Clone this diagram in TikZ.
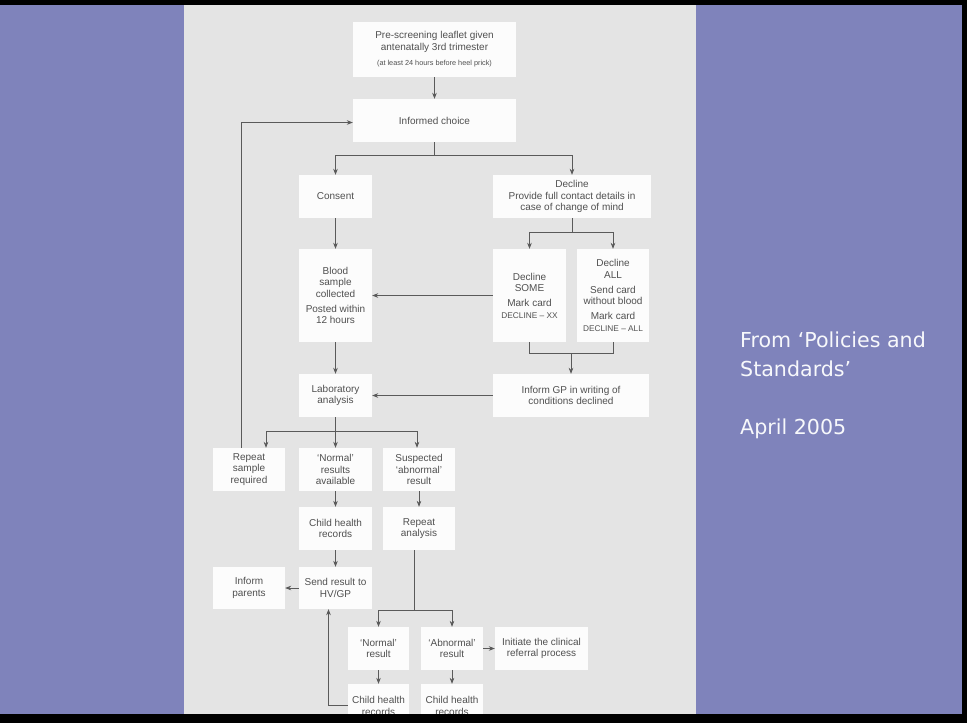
\documentclass[tikz,border=0pt]{standalone}
\usepackage{fontspec}
\setmainfont{Liberation Sans}
\newfontfamily\slidefont{DejaVu Sans}
\usetikzlibrary{arrows.meta}

\definecolor{slidebg}{RGB}{127,131,187}
\definecolor{pagebg}{RGB}{228,228,228}
\definecolor{boxfill}{RGB}{252,252,252}
\definecolor{ink}{RGB}{80,80,80}
\definecolor{wire}{RGB}{90,90,90}

\newcommand{\smalltxt}{\fontsize{7.3}{9}\selectfont}
\newcommand{\captxt}{\fontsize{8.3}{10}\selectfont}

\begin{document}
\begin{tikzpicture}[x=1pt,y=-1pt,
  box/.style={fill=boxfill, draw=none, inner sep=0pt, align=center, text=ink,
    font=\fontsize{10}{11.5}\selectfont},
  link/.style={draw=wire, line width=0.7pt},
  arr/.style={link, -{Stealth[length=6pt,width=4.6pt]}},
  slidetxt/.style={anchor=base west, inner sep=0pt, text=white!94!slidebg,
    font=\slidefont\fontsize{20.6}{24}\selectfont}
]
% background
\fill[slidebg] (0,0) rectangle (967,723);
\fill[pagebg] (184,0) rectangle (696,723);
\useasboundingbox (0,0) rectangle (967,723);

% boxes
\node[box, minimum width=163pt, minimum height=55pt] (pre) at (434.5,49.5)
  {Pre-screening leaflet given\\antenatally 3rd trimester\\[4pt]{\smalltxt (at least 24 hours before heel prick)}};
\node[box, minimum width=163pt, minimum height=43pt] (inf) at (434.5,120.5) {Informed choice};
\node[box, minimum width=73pt, minimum height=43pt] (consent) at (335.5,196.5) {Consent};
\node[box, minimum width=158pt, minimum height=43pt] (decline) at (572,196.5)
  {Decline\\Provide full contact details in\\case of change of mind};
\node[box, minimum width=73pt, minimum height=93pt] (blood) at (335.5,295.5)
  {Blood\\sample\\collected\\[3.5pt]Posted within\\12 hours};
\node[box, minimum width=73pt, minimum height=93pt] (some) at (529.5,295.5)
  {Decline\\SOME\\[3.5pt]Mark card\\{\captxt DECLINE -- XX}};
\node[box, minimum width=72pt, minimum height=93pt] (all) at (613,295.5)
  {Decline\\ALL\\[3.5pt]Send card\\without blood\\[3.5pt]Mark card\\{\captxt DECLINE -- ALL}};
\node[box, minimum width=73pt, minimum height=43pt] (lab) at (335.5,395.5) {Laboratory\\analysis};
\node[box, minimum width=156pt, minimum height=43pt] (gp) at (571,395.5)
  {Inform GP in writing of\\conditions declined};
\node[box, minimum width=72pt, minimum height=43pt] (rs) at (249,469.5) {Repeat\\sample\\required};
\node[box, minimum width=73pt, minimum height=43pt] (nr) at (335.5,469.5) {‘Normal’\\results\\available};
\node[box, minimum width=72pt, minimum height=43pt] (sus) at (419,469.5) {Suspected\\‘abnormal’\\result};
\node[box, minimum width=73pt, minimum height=43pt] (chr1) at (335.5,528.5) {Child health\\records};
\node[box, minimum width=72pt, minimum height=43pt] (ra) at (419,528.5) {Repeat\\analysis};
\node[box, minimum width=73pt, minimum height=42pt] (send) at (335.5,588) {Send result to\\HV/GP};
\node[box, minimum width=72pt, minimum height=42pt] (par) at (249,588) {Inform\\parents};
\node[box, minimum width=61pt, minimum height=43pt] (nres) at (378.5,648.5) {‘Normal’\\result};
\node[box, minimum width=62pt, minimum height=43pt] (ares) at (452,648.5) {‘Abnormal’\\result};
\node[box, minimum width=93pt, minimum height=43pt] (init) at (541.5,648.5) {Initiate the clinical\\referral process};
\node[box, minimum width=61pt, minimum height=44pt] (chr2) at (378.5,706) {Child health\\records};
\node[box, minimum width=62pt, minimum height=44pt] (chr3) at (452,706) {Child health\\records};

% connectors
\draw[arr] (pre) -- (inf);
\coordinate (b1) at (434.5,155);
\draw[link] (inf.south) -- (b1);
\draw[arr] (b1) -| (consent.north);
\draw[arr] (b1) -| (decline.north);
\draw[arr] (consent) -- (blood);

\coordinate (b2) at (572,232);
\draw[link] (decline.south) -- (b2);
\draw[arr] (b2) -| (some.north);
\draw[arr] (b2) -| (all.north);
\draw[arr] (some.west) -- (blood.east);

\coordinate (j1) at (571,353);
\draw[link] (some.south) -- (some.south |- j1) -- (all.south |- j1) -- (all.south);
\draw[arr] (j1) -- (gp.north);

\draw[arr] (blood) -- (lab);
\draw[arr] (gp.west) -- (lab.east);

\coordinate (b3) at (335.5,431);
\draw[link] (lab.south) -- (b3);
\draw[arr] (b3) -| ([xshift=17pt]rs.north);
\draw[arr] (b3) -- (nr.north);
\draw[arr] (b3) -| ([xshift=-2pt]sus.north);

\draw[arr] ([xshift=-8pt]rs.north) |- ([yshift=-2pt]inf.west);

\draw[arr] (nr) -- (chr1);
\draw[arr] (chr1) -- (send);
\draw[arr] (send) -- (par);
\draw[arr] (sus) -- (ra);

\coordinate (b4) at (414,610);
\draw[link] (ra.south -| b4) -- (b4);
\draw[arr] (b4) -| (nres.north);
\draw[arr] (b4) -| (ares.north);
\draw[arr] (ares) -- (init);
\draw[arr] (nres) -- (chr2.north);
\draw[arr] (ares) -- (chr3.north);
\draw[arr] ([yshift=1pt]chr2.west) -| ([xshift=-7pt]send.south);

% slide border bars
\fill[black] (0,0) rectangle (967,5);
\fill[black] (0,714) rectangle (967,723);
\fill[black] (962,0) rectangle (967,723);

% side text
\node[slidetxt] (src1) at (740,347) {From ‘Policies and};
\node[slidetxt] (src2) at (740,376) {Standards’};
\node[slidetxt] (date) at (740,434) {April 2005};
\end{tikzpicture}
\end{document}
